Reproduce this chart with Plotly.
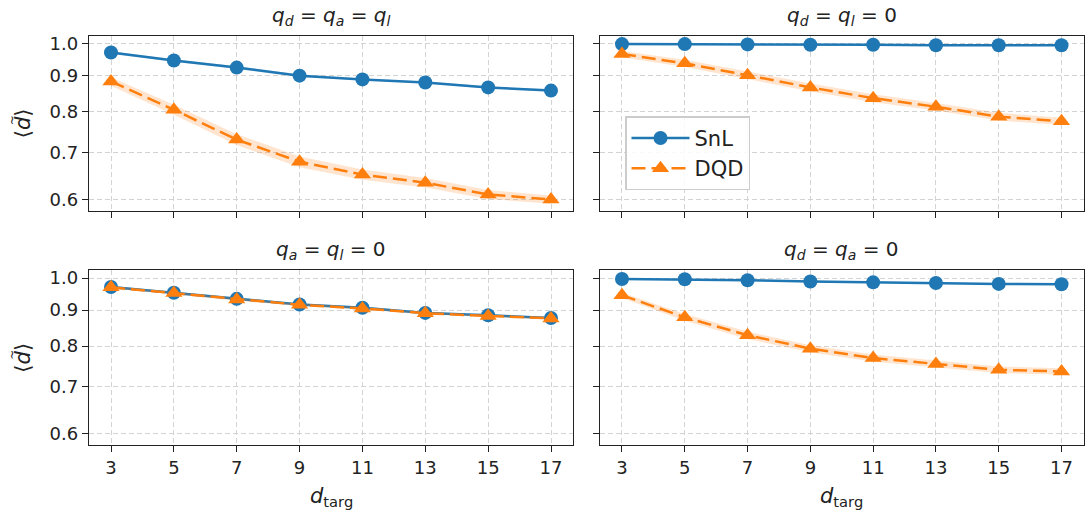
import plotly.graph_objects as go
import math

# x values: target distance
d_targ = [3, 5, 7, 9, 11, 13, 15, 17]

# Panel (a): q_d = q_a = q_l
snl_a = [0.971, 0.946, 0.924, 0.900, 0.889, 0.880, 0.866, 0.857]
dqd_a = [0.883, 0.805, 0.730, 0.679, 0.651, 0.634, 0.610, 0.600]
snl_err_a = [0.004, 0.004, 0.004, 0.004, 0.003, 0.003, 0.003, 0.003]
dqd_err_a = [0.012, 0.013, 0.013, 0.012, 0.011, 0.010, 0.009, 0.008]

# Panel (b): q_d = q_l = 0
snl_b = [0.998, 0.998, 0.997, 0.996, 0.996, 0.994, 0.994, 0.994]
dqd_b = [0.966, 0.937, 0.901, 0.866, 0.836, 0.813, 0.787, 0.775]
snl_err_b = [0.002, 0.002, 0.002, 0.002, 0.002, 0.002, 0.002, 0.002]
dqd_err_b = [0.010, 0.011, 0.011, 0.011, 0.011, 0.010, 0.010, 0.009]

# Panel (c): q_a = q_l = 0
snl_c = [0.971, 0.953, 0.934, 0.917, 0.907, 0.892, 0.885, 0.877]
dqd_c = [0.970, 0.952, 0.932, 0.916, 0.905, 0.891, 0.883, 0.876]
snl_err_c = [0.004, 0.004, 0.004, 0.004, 0.004, 0.003, 0.003, 0.003]
dqd_err_c = [0.004, 0.004, 0.004, 0.004, 0.004, 0.003, 0.003, 0.003]

# Panel (d): q_d = q_a = 0
snl_d = [0.997, 0.996, 0.993, 0.989, 0.986, 0.984, 0.981, 0.980]
dqd_d = [0.945, 0.879, 0.829, 0.793, 0.769, 0.754, 0.740, 0.736]
snl_err_d = [0.002, 0.002, 0.002, 0.002, 0.002, 0.002, 0.002, 0.002]
dqd_err_d = [0.008, 0.010, 0.010, 0.009, 0.009, 0.008, 0.008, 0.008]

titles = [
    "<i>q</i><sub><i>d</i></sub> = <i>q</i><sub><i>a</i></sub> = <i>q</i><sub><i>l</i></sub>",
    "<i>q</i><sub><i>d</i></sub> = <i>q</i><sub><i>l</i></sub> = 0",
    "<i>q</i><sub><i>a</i></sub> = <i>q</i><sub><i>l</i></sub> = 0",
    "<i>q</i><sub><i>d</i></sub> = <i>q</i><sub><i>a</i></sub> = 0",
]
y_ticks = [0.6, 0.7, 0.8, 0.9, 1.0]
y_tick_text = ["0.6", "0.7", "0.8", "0.9", "1.0"]

BLUE = "#1f77b4"
ORANGE = "#ff7f0e"
FONT = "DejaVu Sans"

W, H = 1086, 512
# axes boxes in pixels: (left, right, top, bottom)
boxes = [(89, 573, 33, 209), (600, 1083.5, 33, 209),
         (89, 573, 269, 444.5), (600, 1083.5, 269, 444.5)]

panels = [
    (snl_a, snl_err_a, dqd_a, dqd_err_a),
    (snl_b, snl_err_b, dqd_b, dqd_err_b),
    (snl_c, snl_err_c, dqd_c, dqd_err_c),
    (snl_d, snl_err_d, dqd_d, dqd_err_d),
]

fig = go.Figure()


def band(x, y, err, color, xa, ya):
    lo = [v - e for v, e in zip(y, err)]
    hi = [v + e for v, e in zip(y, err)]
    return go.Scatter(x=x + x[::-1], y=hi + lo[::-1], fill="toself",
                      fillcolor=color, line=dict(width=0), mode="lines",
                      hoverinfo="skip", showlegend=False, xaxis=xa, yaxis=ya)


for i, (snl, snl_err, dqd, dqd_err) in enumerate(panels):
    n = "" if i == 0 else str(i + 1)
    xa, ya = "x" + n, "y" + n
    legend_on = (i == 1)
    fig.add_trace(band(d_targ, snl, snl_err, "rgba(31,119,180,0.2)", xa, ya))
    fig.add_trace(go.Scatter(x=d_targ, y=snl, mode="lines+markers", name="SnL",
                             line=dict(color=BLUE, width=2.5),
                             marker=dict(symbol="circle", size=14, color=BLUE),
                             showlegend=legend_on, xaxis=xa, yaxis=ya))
    fig.add_trace(band(d_targ, dqd, dqd_err, "rgba(255,127,14,0.2)", xa, ya))
    fig.add_trace(go.Scatter(x=d_targ, y=dqd, mode="lines+markers", name="DQD",
                             line=dict(color=ORANGE, width=2.5, dash="14px,6px"),
                             marker=dict(symbol="triangle-up", size=15, color=ORANGE),
                             showlegend=legend_on, xaxis=xa, yaxis=ya))

y_range = [math.log10(0.5783), math.log10(1.0254)]
axis_common = dict(showline=True, mirror=True, linecolor="#222222", linewidth=1.3,
                   ticks="outside", ticklen=6, tickwidth=1.3, tickcolor="#222222",
                   showgrid=True, gridcolor="#d3d3d3", gridwidth=1, griddash="5px,3px",
                   zeroline=False, tickfont=dict(family=FONT, size=18, color="#222222"))

layout_axes = {}
annotations = []
for i, (l, r, t, b) in enumerate(boxes):
    n = "" if i == 0 else str(i + 1)
    bottom_row = i >= 2
    left_col = i % 2 == 0
    layout_axes["xaxis" + n] = dict(
        axis_common, domain=[l / W, r / W], anchor="y" + n,
        range=[2.3, 17.7], tickvals=d_targ, ticktext=[str(v) for v in d_targ],
        showticklabels=bottom_row)
    layout_axes["yaxis" + n] = dict(
        axis_common, domain=[1 - b / H, 1 - t / H], anchor="x" + n,
        type="log", range=y_range, tickvals=y_ticks, ticktext=y_tick_text,
        showticklabels=left_col)
    annotations.append(dict(text=titles[i], x=(l + r) / 2 / W, y=1 - (t - 5) / H,
                            xref="paper", yref="paper", xanchor="center",
                            yanchor="bottom", showarrow=False,
                            font=dict(family=FONT, size=20, color="#222222")))
    if left_col:
        yc = (t + b) / 2
        annotations.append(dict(text="⟨<i>d</i>⟩", x=23 / W, y=1 - yc / H,
                                xref="paper", yref="paper", xanchor="center",
                                yanchor="middle", textangle=-90, showarrow=False,
                                font=dict(family=FONT, size=21, color="#222222")))
        annotations.append(dict(text="~", x=12 / W, y=1 - (yc - 3) / H,
                                xref="paper", yref="paper", xanchor="center",
                                yanchor="middle", textangle=-90, showarrow=False,
                                font=dict(family=FONT, size=12, color="#222222")))
    if bottom_row:
        annotations.append(dict(text="<i>d</i><sub>targ</sub>", x=(l + r) / 2 / W,
                                y=1 - 497 / H, xref="paper", yref="paper",
                                xanchor="center", yanchor="middle", showarrow=False,
                                font=dict(family=FONT, size=21, color="#222222")))

fig.update_layout(
    width=W, height=H, margin=dict(l=0, r=0, t=0, b=0),
    paper_bgcolor="white", plot_bgcolor="white",
    font=dict(family=FONT, size=18, color="#222222"),
    annotations=annotations,
    legend=dict(x=625 / W, y=1 - 114 / H, xanchor="left", yanchor="top",
                bgcolor="rgba(255,255,255,0.85)", bordercolor="#cccccc",
                borderwidth=1.5, font=dict(family=FONT, size=21, color="#222222"),
                itemwidth=58),
    **layout_axes,
)

fig.write_html("out.html")
